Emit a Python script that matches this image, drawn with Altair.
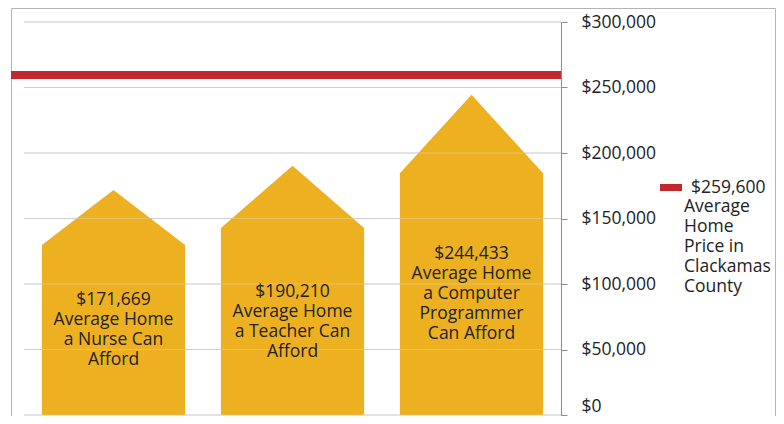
import altair as alt
import pandas as pd

# ---- data ----
categories = ["Nurse", "Teacher", "Computer Programmer"]
afford = [171669, 190210, 244433]            # apex of each house
shoulder = [129800, 142700, 184600]          # eave height of each house
bar_labels = [
    ["$171,669", "Average Home", "a Nurse Can", "Afford"],
    ["$190,210", "Average Home", "a Teacher Can", "Afford"],
    ["$244,433", "Average Home", "a Computer", "Programmer", "Can Afford"],
]
county_price = 259600
legend_rest = ["Average", "Home", "Price in", "Clackamas", "County"]
y_ticks = [0, 50000, 100000, 150000, 200000, 250000, 300000]

GOLD = "#EDB021"
RED = "#C1272D"
GRID = "#C6C6C6"
TXT = "#222222"
FONT = "Open Sans"
FS = 17.5
LH = 20
H = 393
YMAX = 300000

# ---- tables built from the arrays ----
house_rows = []
for i, c in enumerate(categories):
    house_rows.append({"cat": c, "x": i + 0.1, "y": shoulder[i]})
    house_rows.append({"cat": c, "x": i + 0.5, "y": afford[i]})
    house_rows.append({"cat": c, "x": i + 0.9, "y": shoulder[i]})
houses = pd.DataFrame(house_rows)

# first line of each multi-line label, so the block is centred in the house body
labels = pd.DataFrame({
    "cat": categories,
    "x": [i + 0.5 for i in range(len(categories))],
    "y": [s / 2 + (len(l) - 1) * (LH / 2) * YMAX / H for s, l in zip(shoulder, bar_labels)],
    "text": ["\n".join(l) for l in bar_labels],
})
grid = pd.DataFrame({"y": y_ticks, "x0": 0.0, "x1": 3.0})
one = pd.DataFrame({"v": [county_price]})

xs = alt.Scale(domain=[-0.0726, 3.0], nice=False, zero=False)
ys = alt.Scale(domain=[0, YMAX], nice=False)
yaxis = alt.Axis(
    orient="right", values=y_ticks, format="$,.0f", grid=False,
    domainColor="#8C8C8C", tickColor="#8C8C8C", tickSize=6,
    labelPadding=14, labelFont=FONT, labelFontSize=FS, labelColor=TXT,
    labelBaseline={"condition": {"test": "datum.value == 0", "value": "bottom"}, "value": "middle"},
    labelOverlap=False, labelFlush=False, title=None)

border = alt.Chart(one).mark_rect(
    fillOpacity=0, stroke="#B4B4B4", strokeWidth=1
).encode(x=alt.value(0.5), x2=alt.value(764.5), y=alt.value(-13.5), y2=alt.value(440))

grid_under = alt.Chart(grid).mark_rule(color=GRID, strokeWidth=1).encode(
    x=alt.X("x0:Q", scale=xs, axis=None),
    x2="x1:Q",
    y=alt.Y("y:Q", scale=ys, axis=yaxis),
)

house = alt.Chart(houses).mark_area(color=GOLD, interpolate="linear").encode(
    x=alt.X("x:Q", scale=xs, axis=None),
    y=alt.Y("y:Q", scale=ys, axis=yaxis, stack=None),
    detail="cat:N",
)

grid_over = alt.Chart(grid).mark_rule(color="#E0E0E0", strokeWidth=1, opacity=0.35).encode(
    x=alt.X("x0:Q", scale=xs, axis=None),
    x2="x1:Q",
    y=alt.Y("y:Q", scale=ys, axis=yaxis),
)

county_line = alt.Chart(one).mark_rule(color=RED, strokeWidth=8).encode(
    y=alt.Y("v:Q", scale=ys, axis=yaxis),
)

bar_text = alt.Chart(labels).mark_text(
    font=FONT, fontSize=FS, color=TXT, lineBreak="\n", lineHeight=LH,
    align="center", baseline="middle",
).encode(
    x=alt.X("x:Q", scale=xs, axis=None),
    y=alt.Y("y:Q", scale=ys, axis=yaxis),
    text="text:N",
)

legend_symbol = alt.Chart(one).mark_rect(color=RED).encode(
    x=alt.value(649), x2=alt.value(671), y=alt.value(162), y2=alt.value(169)
)
legend_first = alt.Chart(one).mark_text(
    font=FONT, fontSize=FS, color=TXT, align="left", baseline="middle"
).encode(x=alt.value(680), y=alt.value(165.5), text=alt.value(f"${county_price:,}"))
legend_second = alt.Chart(one).mark_text(
    font=FONT, fontSize=FS, color=TXT, align="left", baseline="middle",
    lineBreak="\n", lineHeight=LH,
).encode(x=alt.value(673), y=alt.value(185), text=alt.value("\n".join(legend_rest)))

chart = alt.layer(
    border, grid_under, house, grid_over, county_line, bar_text,
    legend_symbol, legend_first, legend_second,
).properties(
    width=550, height=H,
    autosize=alt.AutoSizeParams(type="none"),
    padding={"left": 3, "top": 14, "right": 215, "bottom": 1},
).configure_view(strokeWidth=0)

chart.save("out.html", embed_options={"renderer": "svg", "actions": False})
